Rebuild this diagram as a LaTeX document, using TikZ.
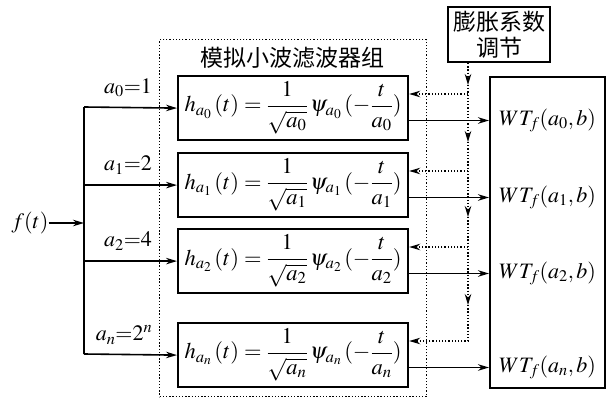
\documentclass[tikz,border=0pt]{standalone}
\usepackage{amsmath}
\usepackage{mathptmx}
\usepackage{fontspec}
\setmainfont{Liberation Serif}
\newfontfamily\cjk{Noto Sans CJK SC}
\usetikzlibrary{arrows.meta,calc}
\newcommand{\hform}[1]{$h_{a_{#1}}\,(t)=\dfrac{1}{\sqrt{a_{#1}}}\,\psi_{a_{#1}}\,(-\dfrac{t}{a_{#1}})$}
\begin{document}
\begin{tikzpicture}[x=1pt,y=-1pt,
  every node/.style={font=\fontsize{22}{26}\selectfont},
  fbox/.style={draw,line width=2.2pt,minimum width=230pt,minimum height=64pt,inner sep=0pt,anchor=north west,font=\fontsize{22.5}{26}\selectfont},
  arr/.style={line width=1.6pt,-{Stealth[length=11pt,width=6.5pt]}},
  ln/.style={line width=1.6pt},
  dotln/.style={line width=1.3pt,dash pattern=on 1.3pt off 1.9pt},
  dotarr/.style={dotln,-{Stealth[length=11pt,width=6.5pt]}},
  cjkt/.style={font=\cjk\fontsize{23}{26}\selectfont},
  lab/.style={inner sep=0pt}]
\useasboundingbox (0,0) rectangle (609,398);
% group frame
\node[dotln,draw,minimum width=267pt,minimum height=357pt,anchor=north west,inner sep=0pt] (grp) at (159,39) {};
\node[cjkt] (title) at (292,58) {模拟小波滤波器组};
% filter boxes
\node[fbox] (b0) at (177,75) {\hform{0}};
\node[fbox] (b1) at (177,152) {\hform{1}};
\node[fbox] (b2) at (177,228) {\hform{2}};
\node[fbox] (bn) at (177,322) {\hform{n}};
% adjust box
\node[draw,line width=2.2pt,minimum width=102pt,minimum height=55pt,align=center,inner sep=0pt,cjkt] (adj) at (499,34.5) {膨胀系数\\调节};
% output box
\node[draw,line width=2.2pt,minimum width=115pt,minimum height=311pt,anchor=north west,inner sep=0pt] (wt) at (489,76) {};
% input
\node[lab] (f) at (30,223) {$f(t)$};
\coordinate (sp) at (84,223);
\coordinate (s0) at (84,107);
\coordinate (sn) at (84,354);
\draw[arr] (f.east) -- (sp);
\draw[ln] (s0) -- (sn);
\draw[arr] (s0) -- (b0.west);
\draw[arr] (b1.west -| s0) -- (b1.west);
\draw[arr] (b2.west -| s0) -- (b2.west);
\draw[arr] (sn) -- (bn.west);
\node[lab] (l0) at (128,88) {$a_0{=}1$};
\node[lab] (l1) at (128,165) {$a_1{=}2$};
\node[lab] (l2) at (128,241) {$a_2{=}4$};
\node[lab] (lbn) at (124,335) {$a_n{=}2^n$};
% outputs
\foreach \b/\i in {b0/0,b1/1,b2/2,bn/n}{
  \coordinate (o\i) at ($(\b.north east)+(0,45.5)$);
  \coordinate (fb\i) at ($(\b.north east)+(0,19)$);
  \draw[arr] (o\i) -- (o\i -| wt.west);
  \node[lab] (w\i) at (o\i -| wt.center) {$WT_f(a_\i,b)$};
}
% adjustment feedback
\coordinate (vx) at (468,0);
\coordinate (t0) at (468,85);
\coordinate (t1) at (468,142);
\coordinate (t2) at (468,217);
\coordinate (t3) at (468,305);
\draw[dotarr] (adj.south -| vx) -- (t0);
\draw[dotarr] (t0) -- (t1);
\draw[dotarr] (t1) -- (t2);
\draw[dotarr] (t2) -- (t3);
\draw[dotarr] (t3) -- (fbn -| vx) -- (fbn);
\draw[dotarr] (fb0 -| vx) -- (fb0);
\draw[dotarr] (fb1 -| vx) -- (fb1);
\draw[dotarr] (fb2 -| vx) -- (fb2);
\end{tikzpicture}
\end{document}
